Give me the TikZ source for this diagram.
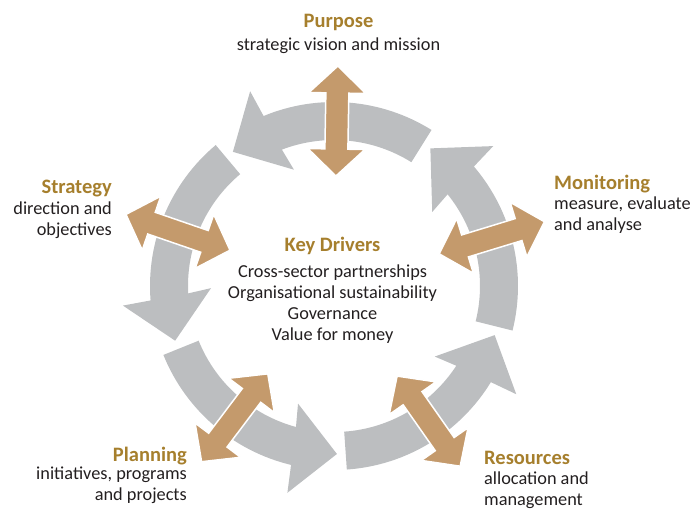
\documentclass[tikz,border=0pt]{standalone}
\usepackage{fontspec}
\setmainfont{Carlito}
\usepackage{xcolor}
\usepackage{tikz}

\definecolor{ringgrey}{HTML}{BCBEC0}
\definecolor{linktan}{HTML}{C49A6C}
\definecolor{headgold}{HTML}{A67F2D}
\definecolor{bodyink}{HTML}{231F20}

\begin{document}
\begin{tikzpicture}[x=1pt,y=1pt,
    head/.style={text=headgold, font=\fontsize{20.5}{24}\selectfont\bfseries, inner sep=0pt},
    body/.style={text=bodyink, font=\fontsize{18.3}{21}\selectfont, inner sep=0pt}]
  \useasboundingbox (-334,-237) rectangle (363,286);

  % grey ring, five curved arrows
  \foreach \a in {58,130,202,274,346} {
    \fill[ringgrey] (\a:184) arc[start angle=\a, end angle=\a+54.5, radius=184pt]
      -- ({\a+55.3}:212) -- ({\a+69}:168) -- ({\a+51}:123) -- ({\a+52.9}:146)
      arc[start angle=\a+52.9, end angle=\a, radius=146pt] -- cycle;
  }

  % double arrows to the outside
  \foreach \a in {89,161,233,305,17} {
    \filldraw[fill=linktan, draw=white, line width=1.5pt, shift={(\a:165)}, rotate=\a]
      (-55,0) -- (-28,28.5) -- (-28,11.5) -- (28,11.5) -- (28,28.5) -- (55,0)
      -- (28,-28.5) -- (28,-11.5) -- (-28,-11.5) -- (-28,-28.5) -- cycle;
  }

  % labels (multi-line nodes sit on their last line)
  \node[head, anchor=base] (purpose) at (4.5,259) {Purpose};
  \node[body, anchor=base] (purpose-txt) at (4.5,236) {strategic vision and mission};

  \node[head, anchor=base east] (strategy) at (-222,93) {Strategy};
  \node[body, anchor=base east, align=right] (strategy-txt) at (-222,51) {direction and\\objectives};

  \node[head, anchor=base west] (monitoring) at (220,97) {Monitoring};
  \node[body, anchor=base west, align=left] (monitoring-txt) at (220,56) {measure, evaluate\\and analyse};

  \node[head, anchor=base] (drivers) at (-1.5,35) {Key Drivers};
  \node[body, anchor=base, align=center] (drivers-txt) at (-1.5,-54)
    {Cross-sector partnerships\\Organisational sustainability\\Governance\\Value for money};

  \node[head, anchor=base east] (planning) at (-147,-175) {Planning};
  \node[body, anchor=base east, align=right] (planning-txt) at (-147,-214) {initiatives, programs\\and projects};

  \node[head, anchor=base west] (resources) at (150,-178) {Resources};
  \node[body, anchor=base west, align=left] (resources-txt) at (150,-219) {allocation and\\management};
\end{tikzpicture}
\end{document}
